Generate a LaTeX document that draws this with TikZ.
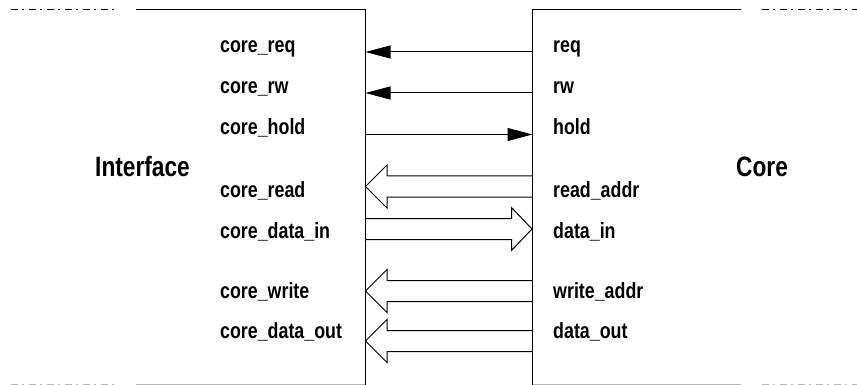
\documentclass[tikz,border=0pt]{standalone}
\usepackage{fontspec}
\setmainfont{Liberation Sans}
\newfontfamily\lblfont{Liberation Sans}[FakeStretch=0.81]
\usetikzlibrary{arrows.meta}
\begin{document}
\begin{tikzpicture}[x=1pt,y=-1pt,
  edge/.style={line width=1.3pt,draw=black},
  edgefaint/.style={line width=1.3pt,draw=black!28},
  dashdot/.style={dash pattern=on 7pt off 4pt on 1.5pt off 5.5pt},
  sig/.style={line width=1pt,-{Triangle[length=25pt,width=13pt]}},
  bus/.style={line width=1pt,line join=miter},
  lbl/.style={inner sep=0pt,anchor=base west,font=\lblfont\bfseries\fontsize{22}{24}\selectfont},
  title/.style={inner sep=0pt,anchor=base west,font=\lblfont\bfseries\fontsize{28}{30}\selectfont}]
\useasboundingbox (0,0) rectangle (857,385);

% module outlines
\draw[edge,dashdot] (11,9.5) -- (117,9.5);
\draw[edge] (136,9.5) -- (365.5,9.5) -- (365.5,390);
\draw[edge] (741,9.5) -- (532.5,9.5) -- (532.5,390);
\draw[edge,dashdot] (762,9.5) -- (857,9.5);
\draw[edgefaint,dashdot] (11,384.5) -- (117,384.5);
\draw[edgefaint] (136,384.5) -- (364.8,384.5);
\draw[edgefaint] (533.2,384.5) -- (741,384.5);
\draw[edgefaint,dashdot] (762,384.5) -- (857,384.5);

% module titles
\node[title] (iface) at (95,177) {Interface};
\node[title] (core) at (736,177) {Core};

% interface-side port names
\node[lbl] (ireq)   at (220,53)    {core\_req};
\node[lbl] (irw)    at (220,93.5)  {core\_rw};
\node[lbl] (ihold)  at (220,135)   {core\_hold};
\node[lbl] (iread)  at (220,197)   {core\_read};
\node[lbl] (idin)   at (220,238)   {core\_data\_in};
\node[lbl] (iwrite) at (220,298)   {core\_write};
\node[lbl] (idout)  at (220,338)   {core\_data\_out};

% core-side port names
\node[lbl] (creq)   at (553,53)    {req};
\node[lbl] (crw)    at (553,93.5)  {rw};
\node[lbl] (chold)  at (553,135)   {hold};
\node[lbl] (cread)  at (553,197)   {read\_addr};
\node[lbl] (cdin)   at (553,238)   {data\_in};
\node[lbl] (cwrite) at (553,298)   {write\_addr};
\node[lbl] (cdout)  at (553,338)   {data\_out};

% port points on the two module edges
\coordinate (Lreq)  at (365.5,52);   \coordinate (Rreq)  at (532.5,52);
\coordinate (Lrw)   at (365.5,93);   \coordinate (Rrw)   at (532.5,93);
\coordinate (Lhold) at (365.5,134.5);\coordinate (Rhold) at (532.5,134.5);

% single-bit control signals
\draw[sig] (Rreq) -- (Lreq);
\draw[sig] (Rrw) -- (Lrw);
\draw[sig] (Lhold) -- (Rhold);

% buses drawn as hollow block arrows
\newcommand\busleft[1]{%
  \draw[bus] (532.5,#1-10.5) -- (387,#1-10.5) -- (387,#1-21.5) -- (365.5,#1)
    -- (387,#1+21.5) -- (387,#1+10.5) -- (532.5,#1+10.5);}
\newcommand\busright[1]{%
  \draw[bus] (365.5,#1-10.5) -- (511.5,#1-10.5) -- (511.5,#1-21.5) -- (532,#1)
    -- (511.5,#1+21.5) -- (511.5,#1+10.5) -- (365.5,#1+10.5);}
\busleft{186.5}
\busright{229}
\busleft{291}
\busleft{341}
\end{tikzpicture}
\end{document}
